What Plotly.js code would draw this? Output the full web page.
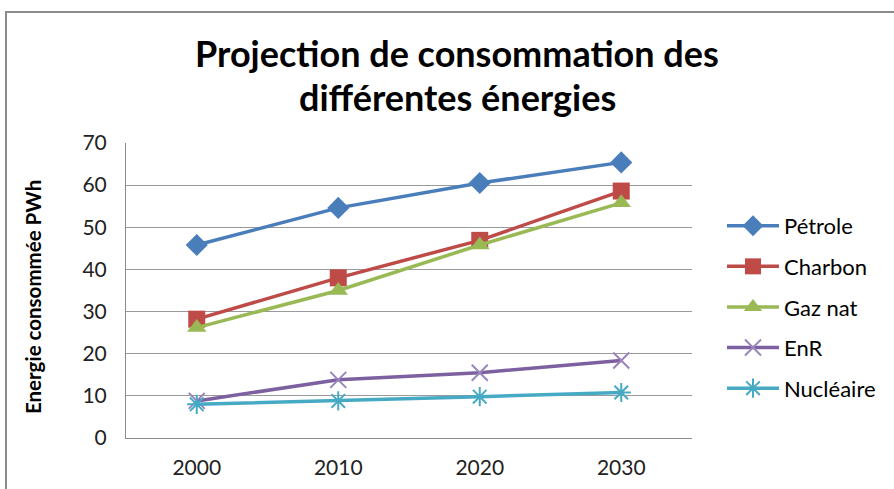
<!DOCTYPE html>
<html>
<head>
<meta charset="utf-8">
<script src="https://cdn.plot.ly/plotly-3.0.1.min.js"></script>
<style>html,body{margin:0;padding:0;background:#fff;}#chart{width:894px;height:489px;}</style>
</head>
<body>
<div id="chart"></div>
<script>
const years = ["2000", "2010", "2020", "2030"];
const seriesNames = ["Pétrole", "Charbon", "Gaz nat", "EnR", "Nucléaire"];
const petrole = [45.8, 54.6, 60.5, 65.4];
const charbon = [28.2, 38.0, 46.9, 58.6];
const gazNat = [26.2, 35.0, 45.8, 55.8];
const enr = [8.8, 13.8, 15.5, 18.4];
const nucleaire = [8.0, 8.8, 9.8, 10.8];
const yTicks = [0, 10, 20, 30, 40, 50, 60, 70];
const titleLines = ["Projection de consommation des", "différentes énergies"];
const yTitle = "Energie consommée PWh";

const values = [petrole, charbon, gazNat, enr, nucleaire];
const colors = ["#4A7EBB", "#BE4B48", "#98B954", "#7D60A0", "#46AAC5"];
const symbols = ["diamond", "square", "triangle-up", "x-thin-open", "asterisk-open"];
const sizes = [17, 17, 17, 16, 16];
const markerColors = ["#4A7EBB", "#BE4B48", "#98B954", "#9A84BC", "#46AAC5"];

const traces = values.map((v, i) => ({
  x: years, y: v, name: seriesNames[i], type: "scatter", mode: "lines+markers",
  legendgroup: "g" + i,
  line: {color: colors[i], width: 3.5},
  marker: {symbol: symbols[i], size: sizes[i], color: markerColors[i],
           line: {color: markerColors[i], width: (i >= 3 ? 2 : 0)}}
}));

const annotations = titleLines.map((t, i) => ({
  text: "<b>" + t + "</b>", xref: "paper", yref: "paper", showarrow: false,
  x: (457 - 126) / 566, y: (438 - (53 + 44 * i)) / 295, xanchor: "center", yanchor: "middle",
  font: {size: 36, color: "#000", family: "Lato, sans-serif"}
}));
annotations.push({
  text: "<b>" + yTitle + "</b>", xref: "paper", yref: "paper", showarrow: false,
  x: (33 - 126) / 566, y: (438 - 297) / 295, xanchor: "center", yanchor: "middle",
  textangle: -90, font: {size: 20.5, color: "#000", family: "Lato, sans-serif"}
});

const layout = {
  width: 894, height: 489,
  margin: {l: 126, r: 202, t: 143, b: 51},
  paper_bgcolor: "#fff", plot_bgcolor: "#fff",
  font: {family: "Lato, 'Open Sans', sans-serif", color: "#222"},
  xaxis: {type: "category", range: [-0.5, 3.5], showgrid: false, showline: true, linecolor: "#8c8c8c", linewidth: 1,
          ticks: "", tickfont: {size: 21, color: "#222"}, ticklabelstandoff: 11, zeroline: false, fixedrange: true},
  yaxis: {range: [0, 70], tickvals: yTicks, showgrid: true, gridcolor: "#9a9a9a", gridwidth: 1,
          showline: true, linecolor: "#8c8c8c", linewidth: 1, ticks: "", zeroline: false,
          tickfont: {size: 21, color: "#222"}, ticklabelstandoff: 14},
  legend: {x: 1.053, xanchor: "left", y: 0.79, yanchor: "top", font: {size: 22, color: "#000"},
           tracegroupgap: 9, itemwidth: 52, bgcolor: "rgba(0,0,0,0)"},
  showlegend: true,
  annotations: annotations,
  shapes: [{type: "rect", xref: "paper", yref: "paper",
            x0: -120/566, x1: 780/566, y0: -80/295, y1: (438-12)/295,
            line: {color: "#8c8c8c", width: 2}, layer: "below"}]
};

Plotly.newPlot("chart", traces, layout, {displayModeBar: false, staticPlot: true});
</script>
</body>
</html>
